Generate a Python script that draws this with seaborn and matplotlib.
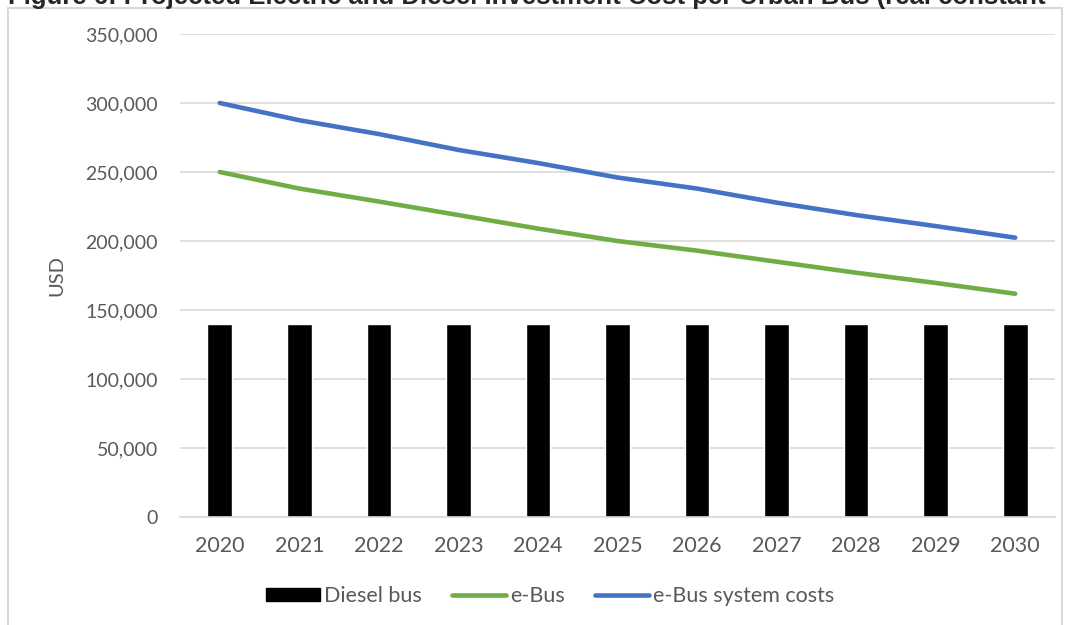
"""
Projected electric vs diesel investment cost per urban bus
"""

import pandas as pd
import matplotlib
matplotlib.use('Agg')
import matplotlib.pyplot as plt
import matplotlib.ticker as mticker
from matplotlib.patches import Patch, Rectangle
from matplotlib.lines import Line2D
import seaborn as sns

# Data
years = [2020, 2021, 2022, 2023, 2024, 2025, 2026, 2027, 2028, 2029, 2030]
diesel_bus = [140000] * 11
e_bus = [250000, 238000, 228600, 218800, 209000, 200000, 193000, 185000, 177000, 169600, 161800]
e_bus_system = [300000, 287500, 277500, 266000, 256500, 246000, 238000, 227800, 218800, 210800, 202400]
y_ticks = [0, 50000, 100000, 150000, 200000, 250000, 300000, 350000]
series_labels = ['Diesel bus', 'e-Bus', 'e-Bus system costs']

# caption is cut off by the top (and right) edge in the reference
title = "Figure 6: Projected Electric and Diesel Investment Cost per Urban Bus (real constant"

sns.set_style("white")
plt.rcParams['font.family'] = ['Lato', 'DejaVu Sans']

GREY_TXT = '#595959'
GRID = '#D9D9D9'
GREEN = '#70AD47'
BLUE = '#4472C4'

df = pd.DataFrame({'year': years, 'diesel': diesel_bus,
                   'ebus': e_bus, 'system': e_bus_system})

fig = plt.figure(figsize=(10.68, 6.25), dpi=100)
ax = fig.add_axes([180 / 1068, 1 - 517 / 625, 875 / 1068, 483 / 625])

sns.barplot(data=df, x='year', y='diesel', native_scale=True, width=0.31,
            color='black', saturation=1, ax=ax, zorder=2)
sns.lineplot(data=df, x='year', y='ebus', color=GREEN, linewidth=3.3,
             ax=ax, zorder=3, solid_capstyle='round')
sns.lineplot(data=df, x='year', y='system', color=BLUE, linewidth=3.3,
             ax=ax, zorder=3, solid_capstyle='round')

ax.set_xlim(2019.5, 2030.5)
ax.set_ylim(0, 350000)
ax.set_xticks(years)
ax.set_xticklabels([str(y) for y in years])
ax.set_yticks(y_ticks)
ax.yaxis.set_major_formatter(mticker.FuncFormatter(lambda v, p: f'{int(v):,}'))
ax.grid(axis='y', color=GRID, linewidth=1.2, zorder=0)
ax.grid(axis='x', visible=False)
ax.set_axisbelow(True)
for side in ['top', 'right', 'left']:
    ax.spines[side].set_visible(False)
ax.spines['bottom'].set_color(GRID)
ax.spines['bottom'].set_linewidth(1.2)
ax.tick_params(axis='both', length=0, labelcolor=GREY_TXT)
ax.tick_params(axis='y', pad=16, labelsize=14)
ax.tick_params(axis='x', pad=14, labelsize=15.5)
ax.set_xlabel('')
ax.set_ylabel('USD', fontsize=14.5, color=GREY_TXT, labelpad=14)

handles = [Patch(facecolor='black', edgecolor='black'),
           Line2D([0], [0], color=GREEN, linewidth=3.3, solid_capstyle='round'),
           Line2D([0], [0], color=BLUE, linewidth=3.3, solid_capstyle='round')]
leg = fig.legend(handles, series_labels, loc='center',
                 bbox_to_anchor=(550 / 1068, 1 - 596 / 625),
                 ncol=3, frameon=False, fontsize=15.5, handlelength=2.5,
                 handleheight=0.6, handletextpad=0.2, columnspacing=1.4)
for t in leg.get_texts():
    t.set_color(GREY_TXT)

# chart frame (open at the bottom in the reference)
fig.patches.append(Rectangle((8 / 1068, -0.1), 1054 / 1068, 0.1 + 1 - 8 / 625,
                             transform=fig.transFigure, fill=False,
                             edgecolor=GRID, linewidth=1.5))

fig.text(8 / 1068, 1 - 4 / 625, title, fontsize=18.5, fontweight='bold',
         family=['Liberation Sans', 'DejaVu Sans'], va='baseline', ha='left')

fig.savefig('out.png', dpi=100)
